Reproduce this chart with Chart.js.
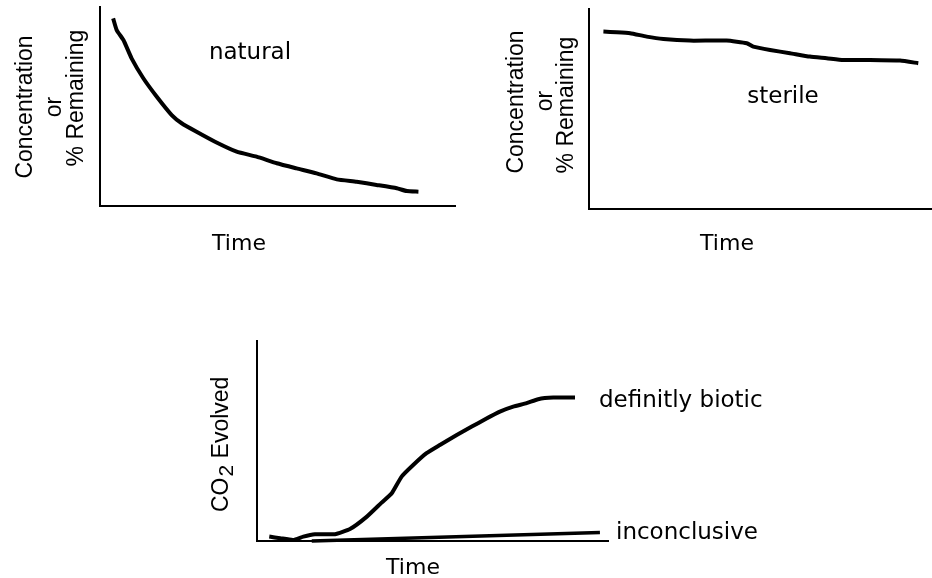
<!DOCTYPE html>
<html lang="en">
<head>
<meta charset="UTF-8">
<title>Natural vs sterile, CO2 evolved</title>
<script src="https://cdn.jsdelivr.net/npm/chart.js"></script>
<style>
  html, body { margin: 0; padding: 0; background: #fff; }
  body { position: relative; width: 932px; height: 578px; overflow: hidden; }
  canvas { position: absolute; }
  #natural { left: 0; top: 0; }
  #sterile { left: 470px; top: 0; }
  #co2 { left: 180px; top: 300px; }
</style>
</head>
<body>
<canvas id="natural" width="470" height="260"></canvas>
<canvas id="sterile" width="462" height="260"></canvas>
<canvas id="co2" width="600" height="278"></canvas>
<script>
// values, both axes on a 0-100 scale (no units on the original)
const naturalTime = [3.7, 4.7, 6.6, 8.9, 12.2, 16.0, 20.2, 23.0, 27.2, 32.4, 38.5, 44.1, 49.8, 55.4, 61.0, 66.7, 72.3, 77.9, 83.6, 86.4, 89.7];
const naturalConc = [94.3, 88.4, 83.4, 74.2, 64.2, 54.9, 45.7, 41.6, 37.3, 32.3, 27.3, 24.8, 21.5, 18.9, 16.4, 13.4, 12.2, 10.6, 8.9, 7.5, 7.2];

const sterileTime = [4.2, 8.1, 12.0, 16.8, 21.7, 29.4, 40.1, 46.0, 47.9, 52.8, 58.6, 64.4, 69.3, 74.1, 81.9, 90.7, 96.0];
const sterileConc = [88.7, 88.4, 87.9, 86.2, 85.0, 84.2, 84.2, 82.9, 81.2, 79.5, 77.9, 76.2, 75.4, 74.5, 74.5, 74.2, 72.9];

const bioticTime = [3.5, 6.6, 10.3, 13.2, 16.5, 22.2, 26.5, 31.3, 35.5, 38.4, 41.2, 44.5, 48.3, 52.1, 56.9, 61.2, 65.0, 69.2, 73.0, 76.8, 80.1, 84.4, 90.6];
const bioticCO2 = [2.2, 1.4, 0.5, 2.2, 3.4, 3.4, 6.0, 12.2, 19.2, 23.9, 32.2, 38.0, 43.9, 48.0, 53.0, 57.2, 60.9, 64.7, 67.2, 68.9, 70.9, 71.7, 71.7];

const inconclusiveTime = [15.6, 97.7];
const inconclusiveCO2 = [0, 4.2];

const remainingTitle = ['Concentration', 'or', '% Remaining'];

const axisFont = '23px "Liberation Sans", Arial, sans-serif';
const noteFont = '23px "DejaVu Sans", Verdana, sans-serif';
const timeFont = '22px "DejaVu Sans", Verdana, sans-serif';

function points(xs, ys) {
  return xs.map((x, i) => ({ x: x, y: ys[i] }));
}

function curve(xs, ys, width) {
  return {
    data: points(xs, ys),
    borderColor: '#000',
    borderWidth: width,
    pointRadius: 0,
    tension: 0.15,
    clip: false
  };
}

// plain axis: only the black axis line, no ticks and no grid
function axis() {
  return {
    type: 'linear',
    min: 0,
    max: 100,
    ticks: { display: false },
    grid: { display: false, drawTicks: false },
    border: { display: true, color: '#000', width: 2 }
  };
}

// texts of each panel, in canvas pixels
function textPlugin(texts) {
  return {
    id: 'texts',
    afterDraw(chart) {
      const ctx = chart.ctx;
      ctx.save();
      ctx.fillStyle = '#000';
      ctx.textBaseline = 'alphabetic';
      texts.forEach(t => {
        ctx.save();
        ctx.font = t.font;
        ctx.translate(t.x, t.y);
        if (t.rotate) ctx.rotate(-Math.PI / 2);
        if (t.parts) {
          // text with a subscript, written from its start
          ctx.textAlign = 'left';
          let pos = 0;
          t.parts.forEach(p => {
            ctx.font = p.font || t.font;
            ctx.fillText(p.text, pos, p.shift || 0);
            pos += ctx.measureText(p.text).width + (p.gap || 0);
          });
        } else {
          ctx.textAlign = t.align || 'center';
          ctx.fillText(t.text, 0, 0);
        }
        ctx.restore();
      });
      ctx.restore();
    }
  };
}

function makeChart(id, datasets, padding, texts) {
  return new Chart(document.getElementById(id), {
    type: 'line',
    data: { datasets: datasets },
    options: {
      responsive: false,
      animation: false,
      layout: { padding: padding },
      plugins: { legend: { display: false }, tooltip: { enabled: false } },
      scales: { x: axis(), y: axis() }
    },
    plugins: [textPlugin(texts)]
  });
}

makeChart('natural',
  [curve(naturalTime, naturalConc, 4)],
  { left: 100, top: 7, right: 15, bottom: 54 },
  [
    { text: 'natural', x: 250, y: 59, font: noteFont },
    { text: 'Time', x: 239, y: 250, font: timeFont },
    { text: remainingTitle[0], x: 32, y: 107, rotate: true, font: axisFont },
    { text: remainingTitle[1], x: 61, y: 107, rotate: true, font: axisFont },
    { text: remainingTitle[2], x: 83, y: 98, rotate: true, font: axisFont }
  ]);

makeChart('sterile',
  [curve(sterileTime, sterileConc, 4)],
  { left: 119, top: 9, right: 0, bottom: 51 },
  [
    { text: 'sterile', x: 313, y: 103, font: noteFont },
    { text: 'Time', x: 257, y: 250, font: timeFont },
    { text: remainingTitle[0], x: 53, y: 102, rotate: true, font: axisFont },
    { text: remainingTitle[1], x: 82, y: 101, rotate: true, font: axisFont },
    { text: remainingTitle[2], x: 103, y: 105, rotate: true, font: axisFont }
  ]);

makeChart('co2',
  [curve(bioticTime, bioticCO2, 4), curve(inconclusiveTime, inconclusiveCO2, 3.5)],
  { left: 77, top: 41, right: 172, bottom: 37 },
  [
    { text: 'definitly biotic', x: 419, y: 107, align: 'left', font: noteFont },
    { text: 'inconclusive', x: 436, y: 239, align: 'left', font: noteFont },
    { text: 'Time', x: 233, y: 274, font: timeFont },
    { x: 48, y: 212, rotate: true, font: axisFont, parts: [
      { text: 'CO', gap: 1 },
      { text: '2', shift: 5, font: '21px "Liberation Sans", Arial, sans-serif' },
      { text: ' Evolved' }
    ] }
  ]);
</script>
</body>
</html>
